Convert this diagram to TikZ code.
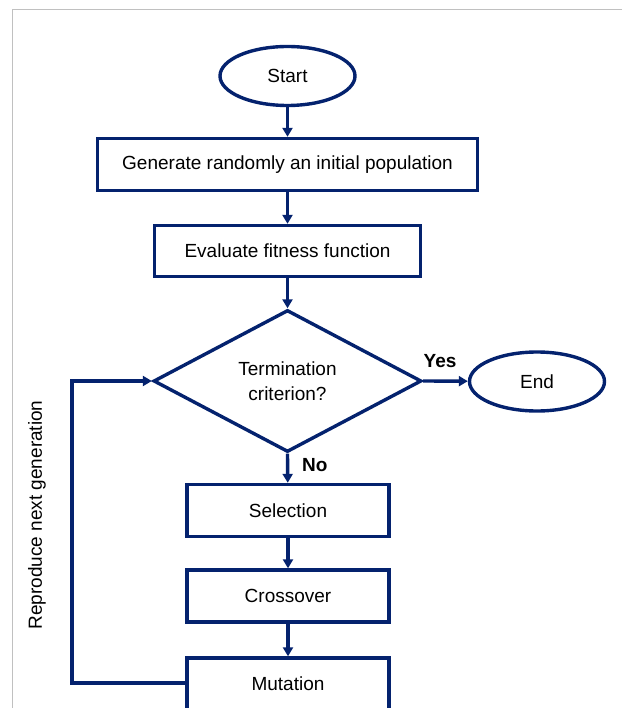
\documentclass[tikz,border=0pt]{standalone}
\usepackage{fontspec}
\setmainfont{Liberation Sans}
\usetikzlibrary{shapes.geometric,arrows.meta}
\definecolor{navy}{RGB}{4,34,110}
\definecolor{framegray}{RGB}{192,192,192}
\begin{document}
\begin{tikzpicture}[x=1pt,y=-1pt,
  font=\fontsize{19}{25}\selectfont,
  base/.style={draw=navy,line width=3.4pt,inner sep=0pt,text=black,align=center},
  box/.style={base,rectangle},
  oval/.style={base,ellipse,minimum width=135pt,minimum height=59pt},
  decision/.style={base,diamond,aspect=1.9,minimum width=268pt,minimum height=142pt},
  conn/.style={draw=navy,line width=3.4pt,-{Triangle[width=10pt,length=9pt]}},
  lbl/.style={font=\fontsize{19}{25}\selectfont\bfseries,inner sep=0pt}]
\useasboundingbox (0,0) rectangle (622,708);
\clip (0,0) rectangle (622,708);
% frame
\draw[framegray,line width=1pt] (622,10) -- (12.5,10) -- (12.5,720);
% nodes
\node[oval] (start) at (287.5,76) {Start};
\node[box,minimum width=380pt,minimum height=52pt] (init) at (287.5,164.5) {Generate randomly an initial population};
\node[box,minimum width=266pt,minimum height=51pt] (eval) at (287.5,251) {Evaluate fitness function};
\node[decision] (term) at (287.5,381) {Termination\\criterion?};
\node[oval] (end) at (537,381.5) {End};
\node[box,minimum width=202pt,minimum height=52pt] (sel) at (288,510.5) {Selection};
\node[box,minimum width=202pt,minimum height=52pt] (cross) at (288,596) {Crossover};
\node[box,minimum width=202pt,minimum height=52pt] (mut) at (288,684) {Mutation};
\coordinate (lb) at (72,683);
\coordinate (lt) at (72,381);
% connectors
\draw[conn] (start) -- (init);
\draw[conn] (init) -- (eval);
\draw[conn] (eval) -- (term.north);
\draw[conn] (term.east) -- (end);
\node[lbl] (yes) at (440,361) {Yes};
\draw[conn] (term.south) -- (sel);
\node[lbl,anchor=west] (no) at (302,465) {No};
\draw[conn] (sel) -- (cross);
\draw[conn] (cross) -- (mut);
\draw[conn] (mut.west |- lb) -- (lb) -- (lt) -- (term.west);
\node[rotate=90,inner sep=0pt] (rep) at (37,515) {Reproduce next generation};
\end{tikzpicture}
\end{document}
